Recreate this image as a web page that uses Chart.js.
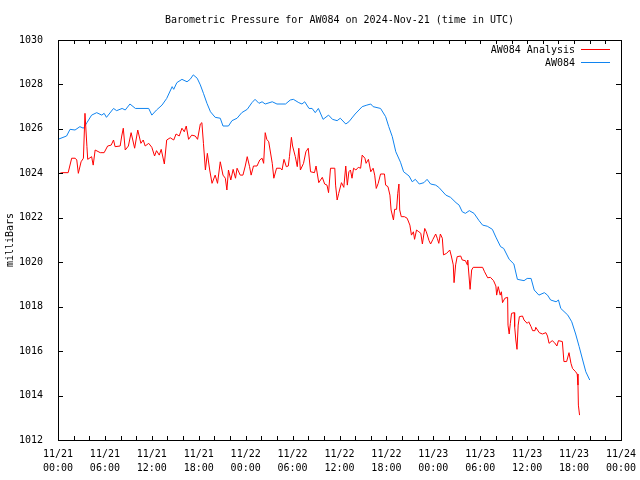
<!DOCTYPE html>
<html>
<head>
<meta charset="utf-8">
<script src="https://cdn.jsdelivr.net/npm/chart.js@4.4.1/dist/chart.umd.min.js"></script>
<style>
  body { margin: 0; background: #fff; }
  #wrap { width: 640px; height: 480px; }
</style>
</head>
<body>
<div id="wrap"><canvas id="pressureChart" width="640" height="480"></canvas></div>
<script>
// hours since 11/21 00:00 UTC, pressure in mb
const analysisHours = [0, 0.5, 1.3, 1.75, 2.2, 2.4, 2.6, 2.95, 3.25, 3.45, 3.7, 3.8, 4.3, 4.5, 4.75, 5.4, 5.9, 6.35, 6.8, 7.1, 7.3, 7.95, 8.15, 8.35, 8.6, 9.0, 9.35, 9.8, 10.2, 10.6, 10.9, 11.15, 11.6, 12.0, 12.35, 12.6, 12.95, 13.2, 13.6, 13.9, 14.35, 14.8, 15.1, 15.5, 15.85, 16.15, 16.4, 16.7, 17.1, 17.55, 17.85, 18.2, 18.4, 18.6, 18.85, 19.1, 19.4, 19.7, 20.1, 20.4, 20.75, 21.1, 21.4, 21.6, 21.8, 22.1, 22.4, 22.7, 22.9, 23.3, 23.65, 23.95, 24.2, 24.5, 24.7, 25.0, 25.45, 25.8, 26.1, 26.3, 26.5, 26.7, 26.95, 27.4, 27.6, 27.95, 28.45, 28.65, 28.9, 29.2, 29.45, 29.6, 29.85, 30.0, 30.35, 30.6, 30.8, 31.0, 31.4, 31.7, 32.0, 32.3, 32.8, 33.0, 33.35, 33.8, 34.1, 34.4, 34.6, 34.85, 35.4, 35.5, 35.7, 35.9, 36.25, 36.55, 36.8, 37.0, 37.2, 37.4, 37.6, 37.8, 38.1, 38.4, 38.7, 38.9, 39.25, 39.4, 39.7, 40.0, 40.3, 40.5, 40.7, 40.95, 41.25, 41.75, 41.9, 42.2, 42.45, 42.6, 42.9, 43.05, 43.3, 43.45, 43.6, 43.7, 43.9, 44.3, 44.65, 45.0, 45.2, 45.45, 45.6, 45.85, 46.15, 46.4, 46.6, 46.9, 47.1, 47.45, 47.65, 47.95, 48.3, 48.5, 48.7, 48.9, 49.15, 49.3, 49.7, 50.1, 50.3, 50.55, 50.65, 50.85, 51.05, 51.5, 51.7, 52.1, 52.35, 52.4, 52.7, 52.9, 53.1, 54.3, 54.55, 54.95, 55.3, 55.7, 56.0, 56.1, 56.3, 56.55, 56.7, 56.85, 57.15, 57.5, 57.55, 57.7, 57.85, 58.0, 58.35, 58.4, 58.55, 58.7, 58.85, 59.0, 59.4, 59.6, 60.0, 60.2, 60.5, 60.7, 61.0, 61.1, 61.55, 61.95, 62.4, 62.6, 62.8, 63.2, 63.5, 63.8, 64.0, 64.5, 64.7, 65.05, 65.35, 65.6, 65.8, 66.2, 66.4, 66.5, 66.55, 66.7]
const analysisValues = [1023.97, 1024.03, 1024.03, 1024.68, 1024.68, 1024.6, 1024.0, 1024.52, 1024.68, 1026.7, 1025.2, 1024.63, 1024.75, 1024.37, 1025.05, 1024.93, 1024.93, 1025.23, 1025.27, 1025.5, 1025.2, 1025.23, 1025.68, 1026.03, 1025.05, 1025.23, 1025.83, 1025.13, 1025.95, 1025.35, 1025.5, 1025.23, 1025.35, 1025.17, 1024.78, 1025.02, 1024.82, 1025.08, 1024.42, 1025.5, 1025.6, 1025.5, 1025.77, 1025.68, 1026.03, 1025.87, 1026.13, 1025.53, 1025.72, 1025.68, 1025.53, 1026.22, 1026.28, 1025.35, 1024.15, 1024.9, 1024.15, 1023.55, 1023.92, 1023.55, 1024.52, 1023.92, 1023.78, 1023.25, 1024.15, 1023.7, 1024.18, 1023.78, 1024.23, 1023.92, 1023.92, 1024.33, 1024.75, 1024.3, 1023.92, 1024.33, 1024.33, 1024.6, 1024.68, 1024.45, 1025.83, 1025.53, 1025.42, 1024.45, 1023.78, 1024.23, 1024.23, 1024.15, 1024.63, 1024.3, 1024.33, 1024.75, 1025.62, 1025.23, 1024.75, 1024.3, 1025.13, 1024.15, 1024.45, 1024.97, 1025.13, 1024.07, 1024.03, 1024.33, 1023.58, 1023.82, 1023.52, 1023.47, 1023.13, 1024.23, 1024.23, 1023.47, 1022.8, 1023.1, 1023.58, 1023.37, 1024.33, 1023.47, 1024.07, 1024.15, 1023.78, 1024.23, 1024.15, 1024.27, 1024.23, 1024.82, 1024.68, 1024.45, 1024.63, 1024.07, 1024.23, 1023.92, 1023.32, 1023.55, 1023.97, 1023.97, 1023.47, 1023.4, 1023.02, 1022.35, 1021.9, 1022.38, 1022.38, 1023.1, 1023.52, 1022.35, 1022.05, 1022.05, 1021.98, 1021.67, 1021.22, 1021.37, 1021.03, 1021.45, 1021.37, 1021.3, 1020.82, 1021.52, 1021.37, 1020.97, 1020.82, 1021.03, 1021.27, 1021.08, 1020.85, 1021.27, 1021.08, 1020.33, 1020.4, 1020.55, 1020.28, 1019.88, 1019.08, 1019.88, 1020.25, 1020.28, 1020.1, 1020.07, 1019.88, 1020.1, 1018.78, 1019.65, 1019.77, 1019.77, 1019.57, 1019.3, 1019.32, 1019.17, 1018.93, 1018.52, 1018.9, 1018.52, 1018.67, 1018.18, 1018.38, 1018.42, 1017.17, 1016.77, 1017.25, 1017.7, 1017.73, 1017.1, 1016.5, 1016.08, 1017.17, 1017.55, 1017.58, 1017.4, 1017.25, 1017.32, 1017.1, 1016.92, 1016.92, 1017.07, 1016.83, 1016.77, 1016.83, 1016.68, 1016.35, 1016.47, 1016.38, 1016.23, 1016.47, 1016.43, 1015.53, 1015.53, 1015.93, 1015.45, 1015.22, 1015.07, 1014.97, 1014.47, 1013.57, 1013.12]

const stationHours = [0, 1.1, 1.54, 2.18, 2.8, 3.25, 3.7, 4.3, 4.95, 5.6, 5.9, 6.2, 7.1, 7.5, 8.2, 8.6, 9.2, 9.9, 11.6, 12.0, 12.6, 13.3, 13.9, 14.6, 14.8, 15.2, 15.85, 16.5, 16.9, 17.3, 17.8, 18.2, 18.6, 19.05, 19.5, 20.1, 20.75, 21.1, 21.8, 22.25, 22.9, 23.5, 24.2, 24.8, 25.2, 25.7, 26.1, 26.5, 27.4, 28.0, 29.1, 29.7, 30.1, 30.8, 31.2, 31.55, 32.1, 32.5, 32.9, 33.3, 33.9, 34.6, 35.1, 35.7, 36.1, 36.8, 37.2, 38.0, 38.9, 39.5, 40.0, 40.3, 41.25, 41.9, 42.3, 42.75, 43.2, 43.8, 44.2, 44.9, 45.3, 45.7, 46.2, 46.8, 47.2, 47.65, 48.3, 48.7, 49.6, 50.2, 50.9, 51.3, 51.7, 52.1, 52.6, 53.2, 53.85, 54.3, 54.9, 55.55, 56.0, 56.6, 57.0, 57.7, 58.3, 58.75, 59.6, 60.0, 60.5, 60.9, 61.5, 62.2, 62.6, 63.0, 63.7, 64.0, 64.3, 65.2, 65.7, 66.2, 66.65, 67.1, 67.5, 68.0]
const stationValues = [1025.53, 1025.68, 1025.98, 1025.95, 1026.1, 1026.03, 1026.28, 1026.62, 1026.73, 1026.62, 1026.7, 1026.52, 1026.92, 1026.82, 1026.92, 1026.85, 1027.12, 1026.92, 1026.92, 1026.62, 1026.85, 1027.07, 1027.37, 1027.9, 1027.78, 1028.08, 1028.23, 1028.12, 1028.23, 1028.43, 1028.28, 1027.98, 1027.6, 1027.15, 1026.77, 1026.52, 1026.48, 1026.13, 1026.13, 1026.37, 1026.48, 1026.73, 1026.88, 1027.18, 1027.33, 1027.15, 1027.22, 1027.12, 1027.22, 1027.12, 1027.12, 1027.3, 1027.33, 1027.18, 1027.12, 1027.22, 1026.92, 1026.92, 1026.73, 1026.92, 1026.43, 1026.62, 1026.43, 1026.37, 1026.48, 1026.22, 1026.32, 1026.67, 1027.0, 1027.07, 1027.12, 1027.0, 1026.92, 1026.55, 1026.1, 1025.65, 1024.97, 1024.5, 1024.07, 1023.88, 1023.62, 1023.73, 1023.52, 1023.58, 1023.73, 1023.52, 1023.47, 1023.37, 1023.02, 1022.92, 1022.68, 1022.57, 1022.27, 1022.2, 1022.32, 1022.2, 1021.87, 1021.67, 1021.62, 1021.48, 1021.13, 1020.7, 1020.62, 1020.13, 1019.92, 1019.23, 1019.17, 1019.27, 1019.27, 1018.75, 1018.52, 1018.63, 1018.52, 1018.3, 1018.22, 1018.3, 1017.92, 1017.62, 1017.32, 1016.77, 1016.2, 1015.6, 1015.07, 1014.7]

const xTickLabels = [
  ['11/21', '00:00'], ['11/21', '06:00'], ['11/21', '12:00'], ['11/21', '18:00'],
  ['11/22', '00:00'], ['11/22', '06:00'], ['11/22', '12:00'], ['11/22', '18:00'],
  ['11/23', '00:00'], ['11/23', '06:00'], ['11/23', '12:00'], ['11/23', '18:00'],
  ['11/24', '00:00'],
]

const FONT = { family: "'DejaVu Sans Mono', monospace", size: 10 }

const toPoints = (xs, ys) => xs.map((x, i) => ({ x: x, y: ys[i] }))

// box, inward tics on all four sides, and legend inside the top right corner
const gnuplotFrame = {
  id: 'gnuplotFrame',
  afterDraw(chart) {
    const { ctx, chartArea: a, scales } = chart
    ctx.save()
    ctx.strokeStyle = '#000'
    ctx.lineWidth = 1
    ctx.beginPath()
    scales.x.ticks.forEach((t) => {
      const px = Math.round(scales.x.getPixelForValue(t.value)) + 0.5
      ctx.moveTo(px, a.bottom)
      ctx.lineTo(px, a.bottom - 4)
      ctx.moveTo(px, a.top)
      ctx.lineTo(px, a.top + 4)
    })
    scales.y.ticks.forEach((t) => {
      const py = Math.round(scales.y.getPixelForValue(t.value)) + 0.5
      ctx.moveTo(a.left, py)
      ctx.lineTo(a.left + 5, py)
      ctx.moveTo(a.right, py)
      ctx.lineTo(a.right - 5, py)
    })
    ctx.stroke()
    ctx.strokeRect(Math.round(a.left) + 0.5, Math.round(a.top) + 0.5,
      Math.round(a.right - a.left), Math.round(a.bottom - a.top))

    ctx.font = FONT.size + 'px ' + FONT.family
    ctx.textAlign = 'right'
    ctx.textBaseline = 'middle'
    chart.data.datasets.forEach((ds, i) => {
      const y = a.top + 9.5 + i * 13
      ctx.fillStyle = '#000'
      ctx.fillText(ds.label, a.right - 46, y + 1)
      ctx.strokeStyle = ds.borderColor
      ctx.beginPath()
      ctx.moveTo(a.right - 40, y)
      ctx.lineTo(a.right - 11, y)
      ctx.stroke()
    })
    ctx.restore()
  },
}

document.addEventListener('DOMContentLoaded', function () {
  const ctx = document.getElementById('pressureChart').getContext('2d')

  new Chart(ctx, {
    type: 'line',
    data: {
      datasets: [
        {
          label: 'AW084 Analysis',
          data: toPoints(analysisHours, analysisValues),
          borderColor: '#ff0000',
          borderWidth: 1,
          pointRadius: 0,
          tension: 0,
        },
        {
          label: 'AW084',
          data: toPoints(stationHours, stationValues),
          borderColor: '#1084f0',
          borderWidth: 1,
          pointRadius: 0,
          tension: 0,
        },
      ],
    },
    options: {
      responsive: false,
      animation: false,
      layout: { padding: { left: 0, right: 19, top: 0, bottom: 0 } },
      plugins: {
        legend: { display: false },
        tooltip: { enabled: false },
        title: {
          display: true,
          fullSize: false,
          text: 'Barometric Pressure for AW084 on 2024-Nov-21 (time in UTC)',
          color: '#000',
          font: { family: FONT.family, size: 10, weight: 'normal', lineHeight: 1.2 },
          padding: { top: 14, bottom: 14 },
        },
      },
      scales: {
        x: {
          type: 'linear',
          min: 0,
          max: 72,
          grid: { display: false },
          border: { display: false },
          afterFit: (s) => { s.height = 40 },
          ticks: {
            stepSize: 2,
            autoSkip: false,
            maxRotation: 0,
            padding: -1,
            color: '#000',
            font: { family: FONT.family, size: 10, lineHeight: 1.4 },
            callback: (v) => (v % 6 === 0 ? xTickLabels[v / 6] : ''),
          },
        },
        y: {
          min: 1012,
          max: 1030,
          grid: { display: false },
          border: { display: false },
          afterFit: (s) => { s.width = 58 },
          ticks: {
            stepSize: 2,
            padding: 7,
            color: '#000',
            font: { family: FONT.family, size: 10 },
            callback: (v) => String(v),
          },
          title: {
            display: true,
            text: 'milliBars',
            color: '#000',
            font: { family: FONT.family, size: 10 },
            padding: { top: 4, bottom: 0 },
          },
        },
      },
    },
    plugins: [gnuplotFrame],
  })
})
</script>
</body>
</html>
